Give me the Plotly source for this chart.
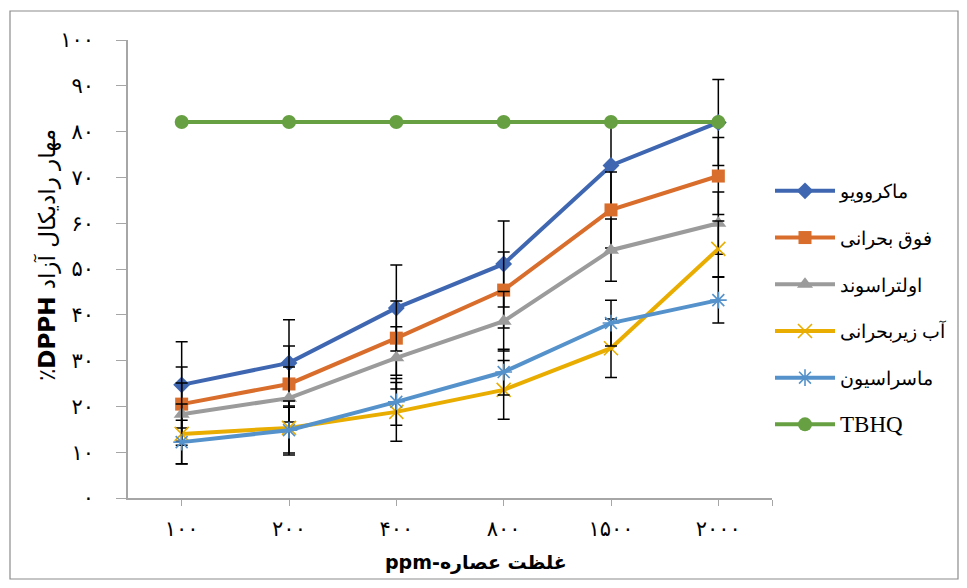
import plotly.graph_objects as go

categories = ["۱۰۰", "۲۰۰", "۴۰۰", "۸۰۰", "۱۵۰۰", "۲۰۰۰"]
y_ticks = [0, 10, 20, 30, 40, 50, 60, 70, 80, 90, 100]
y_tick_labels = ["۰", "۱۰", "۲۰", "۳۰", "۴۰", "۵۰", "۶۰", "۷۰", "۸۰", "۹۰", "۱۰۰"]

series_names = ["ماکروویو", "فوق بحرانی", "اولتراسوند", "آب زیربحرانی", "ماسراسیون", "TBHQ"]
macro = [24.7, 29.5, 41.5, 51.1, 72.6, 82.0]
supercrit = [20.5, 24.9, 34.9, 45.4, 62.9, 70.3]
ultra = [18.3, 21.8, 30.6, 38.6, 54.1, 60.0]
subwater = [14.0, 15.3, 18.8, 23.6, 32.7, 54.4]
maceration = [12.2, 14.8, 21.0, 27.5, 38.2, 43.2]
tbhq = [82.1, 82.1, 82.1, 82.1, 82.1, 82.1]

err_macro = [9.4, 9.4, 9.4, 9.4, 9.4, 9.4]
err_supercrit = [8.1, 8.3, 8.1, 8.3, 8.3, 8.4]
err_ultra = [6.8, 6.8, 6.8, 6.5, 6.8, 6.8]
err_subwater = [6.5, 5.9, 6.4, 6.4, 6.4, 6.1]
err_maceration = [4.8, 5.0, 5.1, 5.0, 5.0, 5.0]

x_title = "<b>ppm-غلظت عصاره</b>"
y_title = "٪<b>DPPH</b> مهار رادیکال آزاد"

values = [macro, supercrit, ultra, subwater, maceration, tbhq]
errors = [err_macro, err_supercrit, err_ultra, err_subwater, err_maceration, None]
colors = ["#3f67b1", "#d96d2b", "#9b9b9b", "#e8ad00", "#5592cb", "#66a042"]
symbols = ["diamond", "square", "triangle-up", "x-thin", "asterisk", "circle"]
sizes = [13, 13, 14, 14, 14, 14]

xs = list(range(len(categories)))

# page has an 8px body margin: figure is placed at (8, 8)
OFF = 8
W, H = 967 - OFF, 588 - OFF
L, R, T, B = 128 - OFF, 772 - OFF, 40 - OFF, 498 - OFF   # figure coords
pw, ph = R - L, B - T


def px(x_page):
    return (x_page - OFF - L) / pw


def py(y_page):
    return (B - (y_page - OFF)) / ph


fig = go.Figure()
for i, name in enumerate(series_names):
    marker = dict(symbol=symbols[i], size=sizes[i], color=colors[i])
    if symbols[i] in ("x-thin", "asterisk"):
        marker["line"] = dict(color=colors[i], width=1.6)
    else:
        marker["line"] = dict(width=0)
    label = name
    if name.isascii():
        label = f"<span style='font-size:23px'>{name}</span>"
    tr = dict(
        x=xs, y=values[i], name=label, mode="lines+markers",
        line=dict(color=colors[i], width=4),
        marker=marker, legendgroup=f"g{i}",
    )
    if errors[i] is not None:
        tr["error_y"] = dict(type="data", array=errors[i], visible=True,
                             color="black", thickness=1.5, width=6)
    fig.add_trace(go.Scatter(**tr))

fig.update_layout(
    width=W, height=H,
    margin=dict(l=L, r=W - R, t=T, b=H - B, autoexpand=False),
    plot_bgcolor="white", paper_bgcolor="white",
    font=dict(family="Liberation Serif, DejaVu Sans", color="black"),
    showlegend=True,
    legend=dict(x=px(770), y=py(172), xanchor="left", yanchor="top",
                font=dict(size=19, family="Liberation Serif, DejaVu Serif"),
                tracegroupgap=19, itemwidth=60, bgcolor="rgba(0,0,0,0)"),
    xaxis=dict(
        range=[-0.5, 5.5], tickmode="array", automargin=False,
        tickvals=xs + [5.5], ticktext=categories + [""],
        showline=True, linecolor="#a6a6a6", linewidth=1.5,
        ticks="outside", ticklen=6, tickcolor="#a6a6a6", tickwidth=1.2,
        showgrid=False, zeroline=False,
        tickfont=dict(size=21, family="DejaVu Serif, DejaVu Sans"),
        ticklabelstandoff=5,
    ),
    yaxis=dict(
        range=[0, 100], tickmode="array", automargin=False,
        tickvals=y_ticks, ticktext=y_tick_labels,
        showline=True, linecolor="#a6a6a6", linewidth=1.5,
        ticks="outside", ticklen=10, tickcolor="#a6a6a6", tickwidth=1.2,
        showgrid=False, zeroline=False,
        tickfont=dict(size=21, family="DejaVu Serif, DejaVu Sans"),
        ticklabelstandoff=18,
    ),
    annotations=[
        dict(text=x_title, xref="paper", yref="paper", x=px(476), y=py(562),
             xanchor="center", yanchor="middle", showarrow=False,
             font=dict(size=19, family="DejaVu Sans")),
        dict(text=y_title, xref="paper", yref="paper", x=px(47), y=py(255),
             xanchor="center", yanchor="middle", showarrow=False, textangle=-90,
             font=dict(size=23, family="DejaVu Sans")),
    ],
)

fig.add_shape(type="rect", xref="paper", yref="paper",
              x0=px(10), x1=px(958), y0=py(579), y1=py(11),
              line=dict(color="#8c8c8c", width=1.2), layer="below")

fig.write_html("out.html")
